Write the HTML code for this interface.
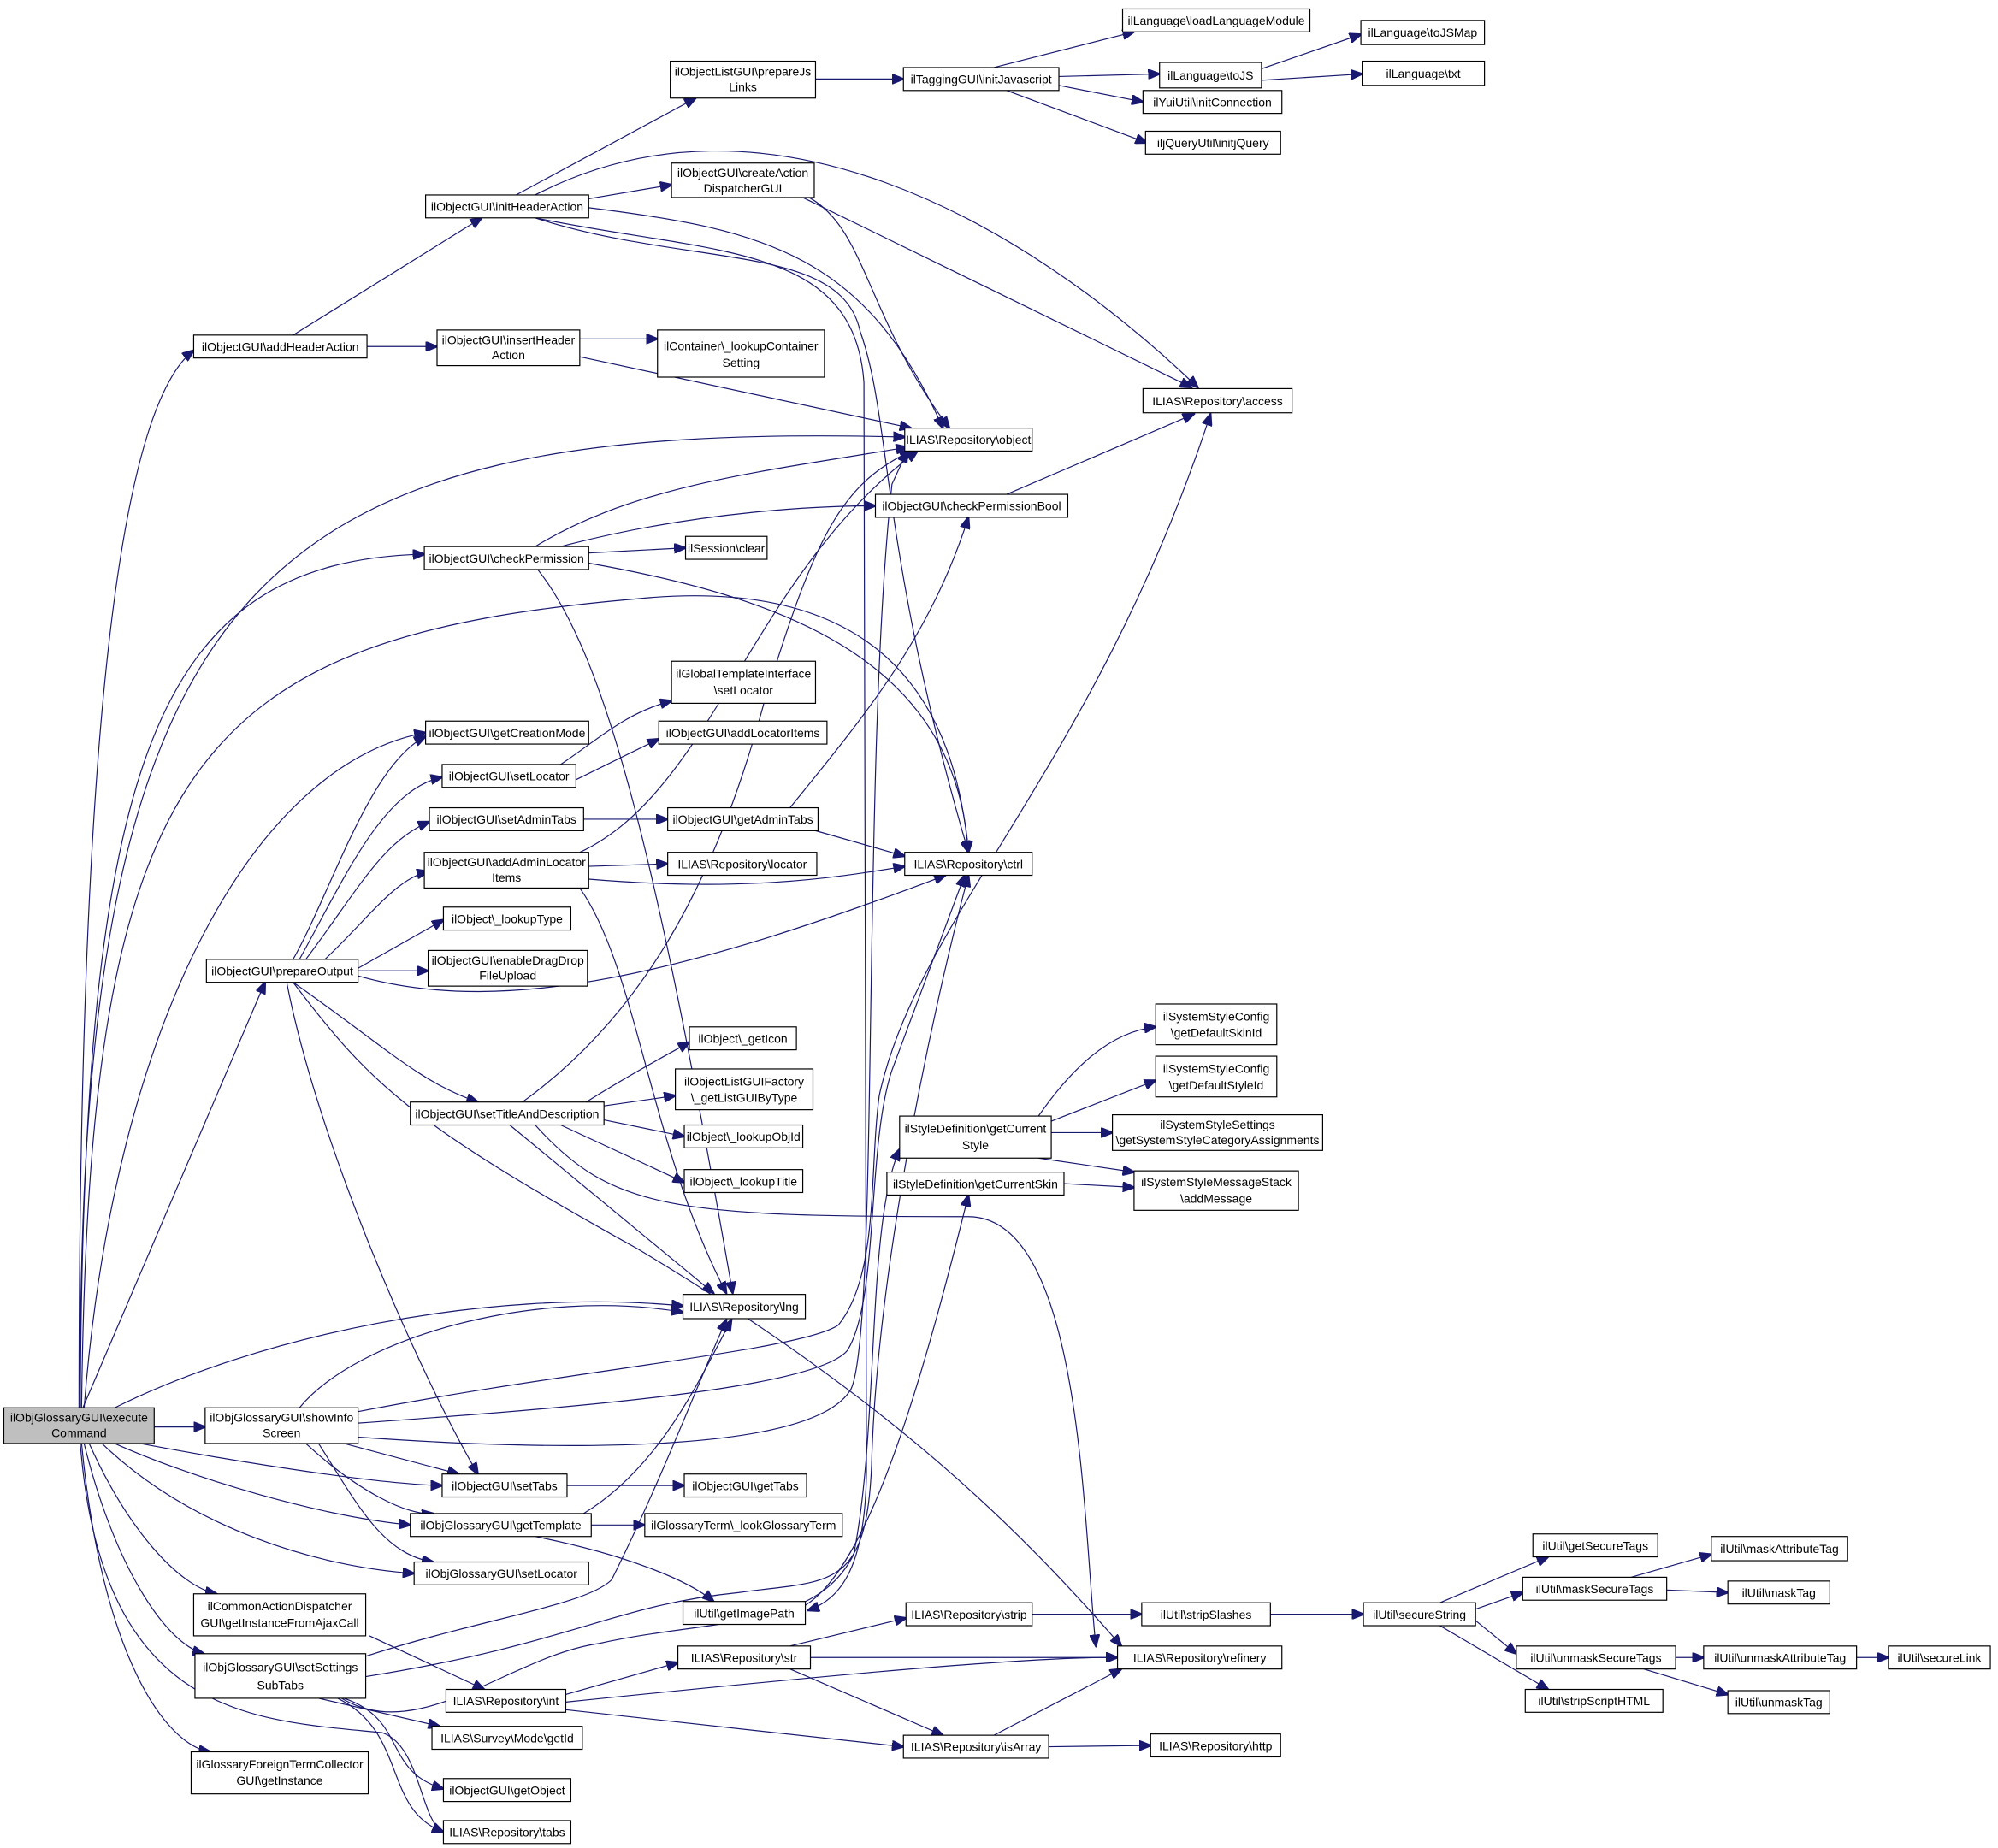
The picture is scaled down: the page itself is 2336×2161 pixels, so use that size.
<!DOCTYPE html>
<html><head><meta charset="utf-8"><style>
html,body{margin:0;padding:0;background:#fff;}
svg{display:block}
text{font-family:"Liberation Sans",sans-serif;font-size:9.4px;fill:#000;text-anchor:middle}
rect{fill:#fff;stroke:#000;stroke-width:0.8}
path{fill:none;stroke:#191970;stroke-width:0.8}
</style></head><body>
<svg width="2336" height="2161" viewBox="0 0 1568 1450.5" xmlns="http://www.w3.org/2000/svg">
<defs><marker id="a" markerWidth="10" markerHeight="8" refX="9" refY="4" orient="auto" markerUnits="userSpaceOnUse"><path d="M0,0 L10,4 L0,8 z" style="fill:#191970;stroke:#191970"/></marker></defs>
<g marker-end="url(#a)">
<path d="M62,1105 C62,700 80,330 152,275"/>
<path d="M65,1105 L208,771"/>
<path d="M121,1120 L161,1120"/>
<path d="M63,1105 C65,600 120,440 333,435"/>
<path d="M63,1105 C60,450 200,330 710,343"/>
<path d="M66,1105 C90,800 200,600 334,575"/>
<path d="M64,1105 C70,600 150,500 500,470 C700,450 750,560 760,669"/>
<path d="M90,1105 C200,1050 380,1010 536,1025"/>
<path d="M110,1133 C200,1150 300,1165 347,1166"/>
<path d="M90,1133 C150,1160 250,1190 322,1197"/>
<path d="M80,1133 C150,1200 250,1230 325,1235"/>
<path d="M70,1133 C100,1200 140,1245 170,1251"/>
<path d="M66,1133 C90,1230 130,1290 160,1298"/>
<path d="M64,1133 C80,1300 130,1370 165,1375"/>
<path d="M63,1133 C80,1350 200,1350 300,1360 C330,1370 330,1430 348,1438"/>
<path d="M230,263 L378,171"/>
<path d="M288,272 L343,272"/>
<path d="M405,153 L546,77"/>
<path d="M462,156 L527,145"/>
<path d="M420,153 C600,60 800,170 940,304"/>
<path d="M462,163 C600,180 680,200 740,336"/>
<path d="M420,171 C540,210 660,190 675,260 C700,330 690,430 760,669"/>
<path d="M455,266 L516,266"/>
<path d="M455,280 L715,336"/>
<path d="M635,155 C680,180 680,250 745,336"/>
<path d="M630,155 L935,304"/>
<path d="M640,62 L709,62"/>
<path d="M780,53 L890,25"/>
<path d="M831,60 L910,58"/>
<path d="M831,67 L897,80"/>
<path d="M790,71 L900,112"/>
<path d="M990,54 L1068,27"/>
<path d="M990,63 L1069,58"/>
<path d="M790,388 L937,325"/>
<path d="M420,429 C500,380 600,370 712,351"/>
<path d="M440,429 C550,400 650,397 687,397"/>
<path d="M462,434 L538,430"/>
<path d="M462,442 C620,470 750,520 760,669"/>
<path d="M422,447 C480,520 520,700 575,1015"/>
<path d="M230,753 C260,700 290,600 334,578"/>
<path d="M235,753 C270,690 300,620 347,610"/>
<path d="M240,753 C280,700 300,660 337,645"/>
<path d="M255,753 C290,720 310,690 336,684"/>
<path d="M281,760 L348,722"/>
<path d="M281,762 L336,762"/>
<path d="M281,766 C400,800 550,760 742,687"/>
<path d="M230,771 C300,820 330,850 375,865"/>
<path d="M225,771 C250,900 330,1080 375,1157"/>
<path d="M230,771 C290,850 320,880 500,980 C700,1100 800,1200 880,1292"/>
<path d="M440,600 C470,580 490,560 527,550"/>
<path d="M452,612 L517,580"/>
<path d="M458,643 L524,643"/>
<path d="M620,634 C680,560 730,500 760,406"/>
<path d="M640,652 L710,672"/>
<path d="M455,669 C560,620 590,450 720,354"/>
<path d="M462,680 L524,678"/>
<path d="M462,690 C580,700 650,690 710,680"/>
<path d="M455,697 C500,760 510,900 570,1015"/>
<path d="M410,865 C500,800 560,700 600,550 C640,420 660,380 715,354"/>
<path d="M460,865 C500,840 520,830 541,818"/>
<path d="M474,868 L530,860"/>
<path d="M474,879 L537,892"/>
<path d="M440,883 L537,928"/>
<path d="M400,883 L560,1015"/>
<path d="M420,883 C480,950 530,955 760,955 C850,955 850,1200 860,1292"/>
<path d="M235,1105 C280,1050 420,1010 536,1030"/>
<path d="M281,1108 C450,1075 630,1060 658,1040 C690,1000 682,920 690,860 C720,720 860,600 950,325"/>
<path d="M281,1117 C450,1105 640,1090 665,1060 C690,1020 680,900 700,840 L757,687"/>
<path d="M281,1128 C450,1140 640,1140 668,1090 C690,1040 676,600 700,380 L712,354"/>
<path d="M270,1133 L360,1157"/>
<path d="M240,1133 C280,1170 320,1190 340,1188"/>
<path d="M250,1133 C280,1180 300,1220 340,1226"/>
<path d="M445,1166 L537,1166"/>
<path d="M458,1188 C520,1150 550,1080 574,1036"/>
<path d="M464,1197 L506,1197"/>
<path d="M420,1206 C490,1220 540,1240 560,1257"/>
<path d="M632,1260 C680,1230 720,1100 760,938"/>
<path d="M420,171 C560,200 670,190 678,300 L680,1150 C680,1230 660,1255 634,1264"/>
<path d="M815,876 C840,840 870,810 907,806"/>
<path d="M825,880 L907,848"/>
<path d="M825,889 L873,889"/>
<path d="M815,909 L890,920"/>
<path d="M835,929 L890,932"/>
<path d="M290,1284 L380,1326"/>
<path d="M287,1300 C380,1270 460,1260 480,1240 C520,1160 550,1080 570,1036"/>
<path d="M287,1316 C450,1290 480,1260 580,1250 C650,1240 680,1250 684,1150 C688,1000 730,800 760,687"/>
<path d="M268,1333 C330,1370 400,1300 470,1290 C560,1270 640,1280 670,1220 C690,1120 680,960 706,902"/>
<path d="M250,1333 L345,1355"/>
<path d="M270,1333 C320,1350 300,1390 348,1404"/>
<path d="M265,1333 C320,1360 300,1420 348,1438"/>
<path d="M444,1330 L532,1305"/>
<path d="M444,1336 C600,1320 800,1300 877,1301"/>
<path d="M444,1342 L709,1371"/>
<path d="M620,1292 L711,1270"/>
<path d="M636,1301 L877,1301"/>
<path d="M620,1310 L740,1362"/>
<path d="M810,1267 L896,1267"/>
<path d="M997,1267 L1070,1267"/>
<path d="M1130,1258 L1215,1222"/>
<path d="M1158,1263 L1195,1250"/>
<path d="M1158,1272 L1190,1298"/>
<path d="M1130,1276 L1215,1326"/>
<path d="M1280,1238 L1343,1220"/>
<path d="M1308,1248 L1356,1250"/>
<path d="M1315,1301 L1337,1301"/>
<path d="M1290,1310 L1356,1330"/>
<path d="M1457,1301 L1482,1301"/>
<path d="M780,1362 L880,1310"/>
<path d="M823,1371 L903,1370"/>
</g>
<!-- nodes -->
<rect x="3" y="1105" width="118" height="28" style="fill:#bfbfbf"/><text x="62" y="1116">ilObjGlossaryGUI\execute</text><text x="62" y="1128">Command</text>
<rect x="152" y="263" width="136" height="18"/><text x="220" y="275.5">ilObjectGUI\addHeaderAction</text>
<rect x="162" y="753" width="119" height="18"/><text x="221.5" y="765.5">ilObjectGUI\prepareOutput</text>
<rect x="161" y="1105" width="120" height="28"/><text x="221" y="1116">ilObjGlossaryGUI\showInfo</text><text x="221" y="1128">Screen</text>
<rect x="152" y="1251" width="135" height="33"/><text x="219.5" y="1264">ilCommonActionDispatcher</text><text x="219.5" y="1277">GUI\getInstanceFromAjaxCall</text>
<rect x="153" y="1298" width="134" height="35"/><text x="220" y="1312">ilObjGlossaryGUI\setSettings</text><text x="220" y="1326">SubTabs</text>
<rect x="150" y="1375" width="139" height="33"/><text x="219.5" y="1388">ilGlossaryForeignTermCollector</text><text x="219.5" y="1401">GUI\getInstance</text>
<rect x="334" y="153" width="128" height="18"/><text x="398" y="165.5">ilObjectGUI\initHeaderAction</text>
<rect x="343" y="259" width="112" height="28"/><text x="399" y="270">ilObjectGUI\insertHeader</text><text x="399" y="282">Action</text>
<rect x="333" y="429" width="129" height="18"/><text x="397.5" y="441.5">ilObjectGUI\checkPermission</text>
<rect x="334" y="566" width="128" height="18"/><text x="398" y="578.5">ilObjectGUI\getCreationMode</text>
<rect x="347" y="600" width="105" height="18"/><text x="399.5" y="612.5">ilObjectGUI\setLocator</text>
<rect x="337" y="634" width="121" height="18"/><text x="397.5" y="646.5">ilObjectGUI\setAdminTabs</text>
<rect x="333" y="669" width="129" height="28"/><text x="397.5" y="680">ilObjectGUI\addAdminLocator</text><text x="397.5" y="692">Items</text>
<rect x="348" y="712" width="100" height="18"/><text x="398" y="724.5">ilObject\_lookupType</text>
<rect x="336" y="746" width="125" height="28"/><text x="398.5" y="757">ilObjectGUI\enableDragDrop</text><text x="398.5" y="769">FileUpload</text>
<rect x="322" y="865" width="152" height="18"/><text x="398" y="877.5">ilObjectGUI\setTitleAndDescription</text>
<rect x="347" y="1157" width="98" height="18"/><text x="396" y="1169.5">ilObjectGUI\setTabs</text>
<rect x="322" y="1188" width="142" height="18"/><text x="393" y="1200.5">ilObjGlossaryGUI\getTemplate</text>
<rect x="325" y="1226" width="137" height="18"/><text x="393.5" y="1238.5">ilObjGlossaryGUI\setLocator</text>
<rect x="350" y="1326" width="94" height="18"/><text x="397" y="1338.5">ILIAS\Repository\int</text>
<rect x="339" y="1355" width="118" height="18"/><text x="398" y="1367.5">ILIAS\Survey\Mode\getId</text>
<rect x="348" y="1396" width="100" height="18"/><text x="398" y="1408.5">ilObjectGUI\getObject</text>
<rect x="348" y="1429" width="100" height="18"/><text x="398" y="1441.5">ILIAS\Repository\tabs</text>
<rect x="526" y="48" width="114" height="29"/><text x="583" y="59.5">ilObjectListGUI\prepareJs</text><text x="583" y="71.5">Links</text>
<rect x="527" y="128" width="112" height="27"/><text x="583" y="139">ilObjectGUI\createAction</text><text x="583" y="151">DispatcherGUI</text>
<rect x="516" y="259" width="131" height="37"/><text x="581.5" y="275">ilContainer\_lookupContainer</text><text x="581.5" y="288">Setting</text>
<rect x="538" y="421" width="64" height="18"/><text x="570" y="433.5">ilSession\clear</text>
<rect x="527" y="519" width="113" height="33"/><text x="583.5" y="532">ilGlobalTemplateInterface</text><text x="583.5" y="545">\setLocator</text>
<rect x="517" y="566" width="132" height="18"/><text x="583" y="578.5">ilObjectGUI\addLocatorItems</text>
<rect x="524" y="634" width="118" height="18"/><text x="583" y="646.5">ilObjectGUI\getAdminTabs</text>
<rect x="524" y="669" width="117" height="18"/><text x="582.5" y="681.5">ILIAS\Repository\locator</text>
<rect x="541" y="806" width="84" height="18"/><text x="583" y="818.5">ilObject\_getIcon</text>
<rect x="530" y="839" width="108" height="32"/><text x="584" y="852">ilObjectListGUIFactory</text><text x="584" y="865">\_getListGUIByType</text>
<rect x="537" y="883" width="93" height="18"/><text x="583.5" y="895.5">ilObject\_lookupObjId</text>
<rect x="537" y="918" width="93" height="18"/><text x="583.5" y="930.5">ilObject\_lookupTitle</text>
<rect x="536" y="1016" width="96" height="19"/><text x="584" y="1029">ILIAS\Repository\lng</text>
<rect x="537" y="1157" width="96" height="18"/><text x="585" y="1169.5">ilObjectGUI\getTabs</text>
<rect x="506" y="1188" width="155" height="18"/><text x="583.5" y="1200.5">ilGlossaryTerm\_lookGlossaryTerm</text>
<rect x="536" y="1257" width="96" height="18"/><text x="584" y="1269.5">ilUtil\getImagePath</text>
<rect x="532" y="1292" width="104" height="18"/><text x="584" y="1304.5">ILIAS\Repository\str</text>
<rect x="709" y="53" width="122" height="18"/><text x="770" y="65.5">ilTaggingGUI\initJavascript</text>
<rect x="710" y="336" width="100" height="18"/><text x="760" y="348.5">ILIAS\Repository\object</text>
<rect x="687" y="388" width="151" height="18"/><text x="762.5" y="400.5">ilObjectGUI\checkPermissionBool</text>
<rect x="710" y="669" width="100" height="18"/><text x="760" y="681.5">ILIAS\Repository\ctrl</text>
<rect x="706" y="876" width="119" height="33"/><text x="765.5" y="889">ilStyleDefinition\getCurrent</text><text x="765.5" y="902">Style</text>
<rect x="696" y="920" width="139" height="18"/><text x="765.5" y="932.5">ilStyleDefinition\getCurrentSkin</text>
<rect x="711" y="1258" width="99" height="18"/><text x="760.5" y="1270.5">ILIAS\Repository\strip</text>
<rect x="709" y="1362" width="114" height="18"/><text x="766" y="1374.5">ILIAS\Repository\isArray</text>
<rect x="881" y="7" width="147" height="18"/><text x="954.5" y="19.5">ilLanguage\loadLanguageModule</text>
<rect x="910" y="49" width="80" height="20"/><text x="950" y="62.5">ilLanguage\toJS</text>
<rect x="897" y="71" width="109" height="18"/><text x="951.5" y="83.5">ilYuiUtil\initConnection</text>
<rect x="899" y="103" width="106" height="18"/><text x="952" y="115.5">iljQueryUtil\initjQuery</text>
<rect x="897" y="305" width="117" height="19"/><text x="955.5" y="318">ILIAS\Repository\access</text>
<rect x="907" y="788" width="95" height="32"/><text x="954.5" y="801">ilSystemStyleConfig</text><text x="954.5" y="814">\getDefaultSkinId</text>
<rect x="907" y="829" width="95" height="32"/><text x="954.5" y="842">ilSystemStyleConfig</text><text x="954.5" y="855">\getDefaultStyleId</text>
<rect x="873" y="875" width="165" height="28"/><text x="955.5" y="886">ilSystemStyleSettings</text><text x="955.5" y="898">\getSystemStyleCategoryAssignments</text>
<rect x="890" y="919" width="129" height="31"/><text x="954.5" y="931">ilSystemStyleMessageStack</text><text x="954.5" y="944">\addMessage</text>
<rect x="896" y="1258" width="101" height="18"/><text x="946.5" y="1270.5">ilUtil\stripSlashes</text>
<rect x="877" y="1292" width="129" height="18"/><text x="941.5" y="1304.5">ILIAS\Repository\refinery</text>
<rect x="903" y="1361" width="102" height="18"/><text x="954" y="1373.5">ILIAS\Repository\http</text>
<rect x="1068" y="16" width="97" height="19"/><text x="1116.5" y="29">ilLanguage\toJSMap</text>
<rect x="1069" y="48" width="96" height="19"/><text x="1117" y="61">ilLanguage\txt</text>
<rect x="1070" y="1258" width="88" height="18"/><text x="1114" y="1270.5">ilUtil\secureString</text>
<rect x="1203" y="1204" width="98" height="18"/><text x="1252" y="1216.5">ilUtil\getSecureTags</text>
<rect x="1195" y="1238" width="113" height="18"/><text x="1251.5" y="1250.5">ilUtil\maskSecureTags</text>
<rect x="1190" y="1292" width="125" height="18"/><text x="1252.5" y="1304.5">ilUtil\unmaskSecureTags</text>
<rect x="1197" y="1326" width="108" height="18"/><text x="1251" y="1338.5">ilUtil\stripScriptHTML</text>
<rect x="1343" y="1206" width="107" height="19"/><text x="1396.5" y="1219">ilUtil\maskAttributeTag</text>
<rect x="1356" y="1241" width="80" height="18"/><text x="1396" y="1253.5">ilUtil\maskTag</text>
<rect x="1337" y="1292" width="120" height="18"/><text x="1397" y="1304.5">ilUtil\unmaskAttributeTag</text>
<rect x="1356" y="1327" width="80" height="18"/><text x="1396" y="1339.5">ilUtil\unmaskTag</text>
<rect x="1482" y="1292" width="80" height="18"/><text x="1522" y="1304.5">ilUtil\secureLink</text>
</svg>
</body></html>
